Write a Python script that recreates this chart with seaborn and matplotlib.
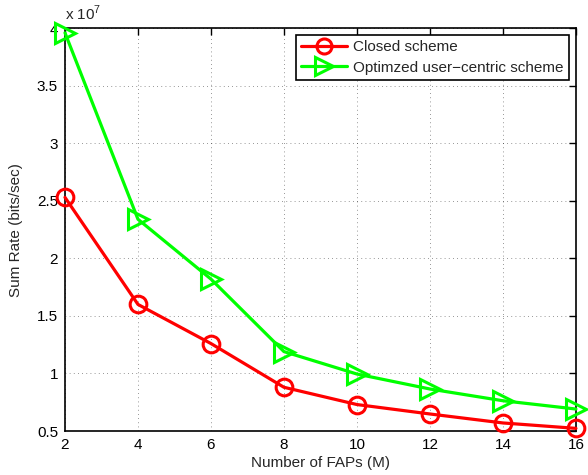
import matplotlib
matplotlib.use("Agg")
import matplotlib.pyplot as plt
import seaborn as sns
import pandas as pd

fap_counts = [2, 4, 6, 8, 10, 12, 14, 16]
closed_rate = [2.53, 1.60, 1.26, 0.88, 0.73, 0.648, 0.57, 0.523]
optimized_rate = [3.96, 2.34, 1.82, 1.19, 0.995, 0.865, 0.763, 0.691]
series_names = ["Closed scheme", "Optimzed user\u2212centric scheme"]
x_ticks = [2, 4, 6, 8, 10, 12, 14, 16]
y_ticks = [0.5, 1, 1.5, 2, 2.5, 3, 3.5, 4]

sns.set_style("white")
plt.rcParams["font.family"] = ["Liberation Sans", "DejaVu Sans"]
plt.rcParams["mathtext.fontset"] = "custom"
plt.rcParams["mathtext.rm"] = "Liberation Sans"

df = pd.DataFrame({
    "M": fap_counts * 2,
    "rate": closed_rate + optimized_rate,
    "scheme": [series_names[0]] * len(fap_counts) + [series_names[1]] * len(fap_counts),
})

fig = plt.figure(figsize=(5.88, 4.75), dpi=100)
ax = fig.add_axes([0.1105, 0.0926, 0.869, 0.848])

styles = [("#ff0000", "o", 12), ("#00ff00", ">", 14)]
for name, (col, mk, ms) in zip(series_names, styles):
    sub = df[df["scheme"] == name]
    sns.lineplot(data=sub, x="M", y="rate", ax=ax, color=col, linewidth=2.3,
                 marker=mk, markersize=ms, markerfacecolor="none",
                 markeredgecolor=col, markeredgewidth=2.2, label=name,
                 clip_on=False, zorder=3)

ax.set_xlim(2, 16)
ax.set_ylim(0.5, 4)
ax.set_xticks(x_ticks)
ax.set_xticklabels([str(v) for v in x_ticks])
ax.set_yticks(y_ticks)
ax.set_yticklabels([f"{v:g}" for v in y_ticks])
ax.grid(True, color="black", linestyle=(0, (1, 4)), linewidth=0.6, alpha=0.55)
ax.tick_params(direction="in", length=5, width=1, top=True, right=True,
               labelsize=11, colors="black", pad=5)
for s in ax.spines.values():
    s.set_color("black")
    s.set_linewidth(1.2)

ax.set_xlabel("Number of FAPs (M)", fontsize=11, labelpad=3)
ax.set_ylabel("Sum Rate (bits/sec)", fontsize=11, labelpad=10)
ax.text(0.0, 1.012, r"x 10$^{7}$", transform=ax.transAxes, fontsize=11,
        ha="left", va="bottom")

leg = ax.legend(loc="upper right", fontsize=11, frameon=True, fancybox=False,
                edgecolor="black", framealpha=1, handlelength=3.0,
                borderaxespad=0.45, borderpad=0.35, labelspacing=0.4,
                handletextpad=0.4, markerscale=0.9)
leg.get_frame().set_linewidth(1.2)

fig.savefig("out.png", dpi=100)
